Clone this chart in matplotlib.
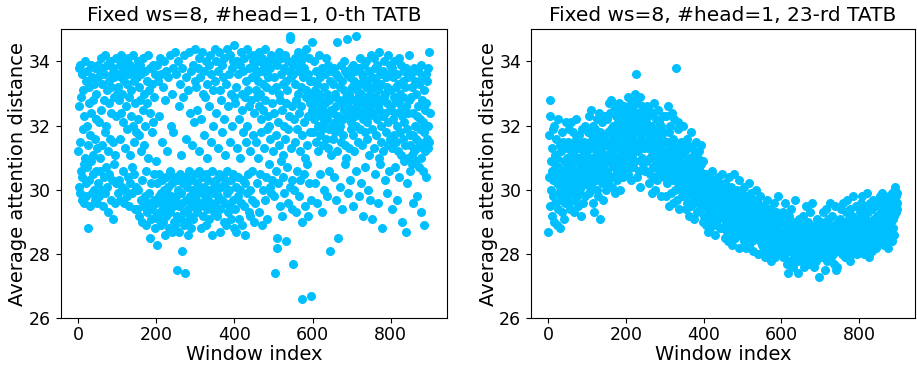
import numpy as np
import matplotlib
matplotlib.use("Agg")
import matplotlib.pyplot as plt

# average attention distance per window, 0-th TATB (50 windows per row)
avgDist0 = np.array("""
31.2 33.8 30.1 32.6 29.9 33.9 31.5 30.6 32.9 29.7 33.6 30.4 31.9 33.1 29.6 30.8 32.3 34.0 31.0 30.2 33.4 29.8 32.0 30.7 33.7 31.4 28.8 32.7 30.3 33.2 29.5 31.7 33.9 30.9 32.4 29.9 33.5 31.1 30.5 32.8 33.3 30.0 31.6 33.8 29.7 32.2 30.6 33.0 31.3 29.6
33.9 30.2 33.5 32.1 29.8 33.7 31.0 30.6 34.1 32.5 30.0 33.3 31.4 29.5 33.8 32.8 30.4 33.6 31.8 29.9 34.2 32.0 30.7 33.1 30.1 33.9 31.2 29.3 32.7 33.4 30.5 34.0 31.6 29.7 33.2 32.4 30.3 33.6 29.1 31.5 33.8 30.8 32.9 33.5 29.6 31.1 34.1 30.2 32.3 33.0
33.6 34.1 29.9 33.2 32.8 30.3 33.9 31.6 29.7 33.5 34.2 32.4 30.1 33.0 33.7 30.6 32.1 29.6 33.4 34.0 31.3 30.0 33.8 32.6 29.8 33.3 31.9 30.4 34.1 32.9 29.5 33.6 31.1 30.2 33.9 32.3 33.1 29.9 30.7 33.7 32.0 34.2 30.5 31.5 33.4 29.4 32.7 33.8 30.1 31.8
33.5 29.4 32.2 34.0 30.0 31.7 33.2 29.2 32.8 33.9 29.7 31.2 33.6 30.3 29.0 32.5 34.1 29.5 33.0 31.4 29.8 33.7 32.0 28.9 30.6 33.4 29.3 32.7 34.2 29.6 31.0 33.1 29.9 28.5 32.4 33.8 30.2 29.1 31.8 33.3 29.4 32.1 33.9 30.5 29.7 32.9 28.8 33.6 30.9 29.2
29.6 33.9 28.3 30.2 29.1 33.4 32.3 29.8 30.5 34.1 29.3 29.9 33.6 28.9 30.3 31.5 29.5 33.2 29.0 30.0 34.0 29.7 28.6 32.8 30.4 29.2 33.7 29.9 31.2 29.4 30.1 33.5 28.8 29.6 34.2 30.6 29.3 32.0 29.8 33.0 28.7 30.2 29.5 33.8 31.8 29.0 30.4 34.3 29.7 28.9
29.8 33.6 30.3 27.5 29.2 34.0 30.0 32.6 29.5 28.7 33.3 30.5 29.1 31.1 29.9 28.1 33.8 29.6 30.2 32.9 29.3 34.2 28.9 30.4 27.4 29.7 33.5 31.6 29.0 30.1 33.1 29.4 28.6 30.6 34.3 29.8 32.4 29.2 30.3 33.7 28.8 29.6 31.4 30.0 33.9 29.1 32.1 29.5 30.5 33.4
34.4 29.7 33.2 30.2 29.3 32.5 33.8 29.9 30.6 34.1 31.2 29.5 33.5 30.0 28.8 32.2 34.3 29.6 30.4 33.0 29.2 31.7 33.7 30.1 29.8 32.9 28.9 34.0 30.5 29.4 33.3 31.0 29.7 30.3 33.9 32.6 29.1 30.0 34.2 29.5 31.5 33.6 30.6 28.6 32.0 29.9 33.1 30.2 29.3 34.4
33.4 29.6 30.3 34.0 32.4 29.2 30.0 33.7 31.3 29.8 34.3 30.5 28.7 33.1 29.4 32.8 30.1 33.9 29.7 31.8 30.4 33.5 29.0 32.2 34.1 29.6 30.2 31.1 33.3 28.9 29.9 34.4 30.6 32.6 29.3 33.6 30.0 29.5 34.2 31.5 33.0 29.1 30.3 33.8 32.0 29.7 30.5 34.0 28.8 32.9
34.5 29.4 32.7 30.1 33.2 28.7 31.3 34.0 29.8 33.6 30.4 32.2 29.1 33.9 30.0 31.0 34.3 29.6 32.5 33.0 28.9 30.3 33.7 31.8 29.5 34.1 32.9 30.2 28.6 33.4 31.5 29.9 34.4 32.0 30.5 33.1 29.3 32.6 33.8 30.0 29.2 31.2 34.2 32.8 29.7 33.5 30.6 31.7 34.0 29.0
33.8 32.4 29.6 34.2 33.1 31.5 33.6 30.2 32.9 34.0 31.0 33.4 29.3 32.6 34.3 33.0 30.5 31.8 33.7 32.2 28.9 34.1 33.3 30.0 32.5 33.9 31.3 29.7 34.4 32.8 33.2 30.4 31.9 33.6 29.1 32.3 34.0 33.5 30.8 32.0 30.1 33.8 31.6 29.9 34.2 32.7 30.3 33.1 31.2 34.1
33.5 29.8 32.4 27.4 34.0 30.6 33.2 31.7 28.5 28.2 33.9 32.1 30.2 34.3 33.0 31.4 29.5 32.8 33.6 30.9 34.1 32.5 29.2 33.3 31.1 30.4 33.8 32.0 29.9 34.2 31.6 33.4 28.4 32.7 30.7 33.1 34.0 31.9 29.6 32.3 33.7 30.1 34.8 34.7 31.3 33.5 29.4 32.6 30.3 33.9
27.7 33.6 32.2 30.0 34.1 31.5 33.3 29.3 32.8 33.9 30.6 31.9 34.3 33.0 29.8 32.4 33.7 31.2 30.3 34.0 32.6 33.2 29.0 26.6 31.7 34.2 33.5 30.5 32.1 33.8 31.0 29.5 34.4 32.9 33.1 30.8 31.4 33.6 29.2 32.3 34.1 30.2 33.4 32.7 31.8 26.7 33.0 29.7 34.6 32.5
32.7 33.4 31.8 34.0 32.2 30.2 33.1 32.9 31.5 33.7 32.4 29.6 33.3 32.0 31.2 34.2 32.6 33.0 31.7 30.5 33.5 32.3 32.8 29.3 31.9 33.8 32.5 31.4 33.2 32.1 30.0 33.6 32.7 31.6 34.1 32.4 29.8 33.0 32.2 31.3 33.9 32.8 30.6 31.9 33.4 28.1 32.5 31.1 33.7 32.0
32.9 33.3 31.6 32.4 33.8 30.4 32.1 33.0 31.8 29.7 33.6 32.6 31.2 34.6 32.3 33.5 28.5 31.9 32.8 33.2 30.1 32.0 33.9 31.5 32.7 33.4 29.4 32.2 31.7 33.1 32.5 34.0 30.8 31.4 33.7 32.9 31.0 32.3 33.6 34.7 29.9 32.6 33.0 31.3 32.8 33.5 30.3 32.1 31.9 33.8
33.2 32.5 31.7 33.9 29.5 32.8 33.4 31.2 32.3 33.7 34.8 32.0 30.6 33.1 32.6 31.5 33.8 32.9 29.8 33.3 32.4 31.9 34.1 33.0 30.2 32.7 33.6 31.4 32.2 33.5 29.2 32.8 33.9 31.8 32.5 30.7 33.2 34.0 32.1 31.6 33.4 32.9 30.0 33.7 32.3 31.1 33.0 32.6 29.7 34.2
32.8 33.5 31.9 29.1 33.2 32.4 34.1 31.3 32.7 33.8 30.5 32.9 33.4 31.7 32.2 33.9 29.6 32.6 33.1 31.0 34.3 32.5 30.8 33.6 32.0 31.5 33.3 32.8 28.8 33.7 32.3 31.2 34.0 32.9 30.3 33.0 32.4 31.8 33.5 29.9 32.7 33.2 31.4 34.2 32.1 30.6 33.6 32.5 31.6 33.9
33.1 32.6 31.3 33.8 29.4 32.2 33.5 31.7 32.9 34.0 30.7 32.4 33.2 31.5 32.8 33.6 29.7 32.0 31.2 33.3 34.1 32.7 30.4 33.0 31.8 32.5 33.9 31.1 29.0 32.3 33.4 31.6 32.9 30.9 33.7 32.1 31.4 33.2 28.7 32.6 33.8 31.9 30.2 32.4 33.5 31.0 32.8 34.2 30.6 31.7
31.4 32.9 33.6 31.1 30.8 33.2 31.7 32.4 29.6 33.8 31.2 32.0 33.4 30.9 31.6 33.0 32.3 31.3 29.8 33.7 32.6 31.5 30.7 33.3 31.9 32.2 33.9 31.0 29.3 32.8 31.4 33.5 30.6 32.1 31.8 33.1 28.9 32.5 31.2 33.6 30.4 32.7 31.6 33.4 32.0 31.3 33.8 34.3 31.5 32.4
""".split(), dtype=float)

# same for the 23-rd TATB
avgDist23 = np.array("""
28.7 31.7 30.4 32.3 29.5 32.8 30.9 30.0 31.3 29.2 30.6 31.9 29.8 30.3 32.0 29.0 30.8 31.1 29.6 30.5 31.6 28.9 30.2 31.0 29.4 30.7 32.2 29.9 30.4 31.4 28.8 30.1 31.2 29.7 30.6 31.8 29.3 30.3 31.5 30.0 29.1 30.9 31.3 29.6 30.5 32.1 30.2 29.8 31.0 30.7
30.8 31.5 29.6 30.3 31.9 30.1 29.4 31.2 30.7 32.1 29.9 30.5 31.4 30.0 31.8 29.3 30.9 31.1 30.4 29.7 31.6 30.2 32.2 29.8 30.6 31.3 30.9 29.5 31.0 30.4 31.7 29.9 30.7 31.4 30.1 29.2 31.9 30.6 31.2 30.3 29.6 31.5 30.8 31.0 29.8 32.0 30.5 31.3 30.2 30.9
31.2 30.4 31.8 30.7 32.3 29.9 31.5 30.1 31.0 32.5 30.6 31.3 30.2 31.7 29.6 30.9 32.0 30.5 29.3 31.4 30.8 31.9 30.3 31.1 32.2 30.0 31.6 30.7 29.8 31.3 32.4 30.4 31.0 29.1 31.8 30.6 31.2 30.2 32.1 30.9 31.5 29.7 30.8 31.7 30.3 32.3 31.1 30.5 31.4 30.0
31.5 32.2 30.6 31.8 30.2 32.7 31.1 30.9 32.4 31.3 30.4 31.9 32.8 30.8 31.6 30.1 32.0 31.2 30.7 32.5 31.4 29.9 31.7 32.3 30.5 31.0 32.6 31.5 30.3 31.8 32.1 30.8 31.3 32.7 30.0 31.9 31.1 32.4 30.6 31.6 32.2 31.0 30.4 31.7 32.6 31.3 30.9 32.0 31.5 30.7
31.9 32.4 30.8 31.5 32.9 31.2 30.5 32.2 31.7 32.6 31.0 32.0 31.4 30.3 32.8 31.8 31.1 32.5 30.7 31.6 32.3 31.3 33.0 31.9 30.9 33.6 32.1 31.5 30.4 32.7 31.2 32.4 31.8 30.6 32.0 31.4 32.9 30.1 31.7 32.3 31.0 32.6 31.5 30.8 32.2 31.9 31.3 32.5 30.6 31.8
31.5 32.1 30.6 31.8 32.6 30.9 31.3 32.3 30.2 31.7 32.5 31.0 30.5 31.9 32.0 31.4 29.9 31.1 32.4 30.7 31.6 32.7 30.4 31.2 31.8 30.0 32.2 31.5 30.8 31.9 31.3 30.3 32.5 31.0 30.6 31.7 32.1 30.9 31.4 29.8 32.0 31.2 30.5 31.6 32.3 30.7 31.1 31.8 30.4 31.5
31.2 30.5 32.3 30.9 29.8 31.5 30.2 32.6 30.7 31.0 29.5 31.8 30.4 32.0 30.9 31.3 29.9 30.6 32.4 31.1 30.3 31.6 29.6 30.8 32.2 31.4 30.0 31.2 30.5 33.8 31.0 29.7 30.7 31.9 30.2 32.1 30.6 29.4 31.3 30.9 30.1 31.5 30.4 29.8 31.1 30.7 32.0 30.3 29.9 30.6
30.5 29.8 31.2 30.1 29.4 30.8 31.6 30.3 29.6 30.9 31.4 30.0 29.2 30.6 31.0 29.9 30.4 31.8 29.5 30.7 30.2 31.3 29.7 30.5 29.1 30.9 31.1 30.0 29.8 30.4 31.5 30.2 29.3 30.7 30.1 31.0 29.6 30.3 31.2 29.9 30.6 29.4 30.8 30.2 31.4 29.7 30.0 30.5 29.0 30.9
29.8 30.3 29.2 29.6 30.1 28.9 29.5 30.5 29.0 29.9 29.4 30.0 28.7 29.7 30.4 29.3 29.8 28.8 30.2 29.5 29.1 29.9 30.6 29.4 28.9 29.7 30.1 29.2 29.6 30.3 28.6 29.8 29.3 30.0 29.5 28.9 30.4 29.7 29.1 29.9 30.2 29.4 28.8 29.6 30.0 29.2 29.8 30.5 29.3 29.5
29.5 28.8 29.9 29.2 28.5 30.2 29.4 29.0 29.7 28.7 30.0 29.3 28.4 29.6 29.1 30.4 28.9 29.5 29.8 28.6 29.2 30.1 29.4 28.3 29.7 29.0 29.9 28.8 29.3 30.5 28.5 29.6 29.1 29.8 28.7 30.0 29.4 28.9 29.2 29.6 28.2 29.5 30.3 29.0 28.8 29.7 29.3 28.6 29.9 29.1
29.2 28.6 29.5 28.9 30.1 28.4 29.1 29.7 28.7 29.3 28.2 29.0 29.8 28.5 29.4 28.8 30.2 29.1 28.3 29.6 28.9 29.2 28.6 29.9 28.4 29.0 29.5 28.7 28.1 29.3 29.7 28.8 29.1 28.5 30.0 29.4 28.6 28.9 29.2 28.0 29.6 28.7 29.0 29.3 28.4 29.8 28.9 28.5 29.1 29.4
28.9 28.3 29.2 28.6 28.1 29.5 28.8 28.4 29.0 27.9 28.7 29.3 28.5 28.2 29.7 28.8 28.3 29.1 28.6 28.0 29.4 28.7 28.4 29.0 27.8 28.9 29.2 28.5 28.1 28.8 29.6 28.3 28.7 29.1 28.4 27.9 28.9 29.3 28.6 28.2 28.8 29.8 28.5 28.0 29.0 28.7 28.4 29.2 28.6 28.3
28.6 28.2 29.0 28.4 27.9 29.3 28.7 28.1 28.5 29.6 28.0 28.8 28.3 29.1 27.7 28.5 28.9 27.4 28.2 28.6 29.2 28.4 27.8 28.7 29.4 28.1 28.5 28.9 28.3 27.6 28.8 29.0 28.2 28.6 27.9 29.7 28.4 28.7 28.0 28.3 28.9 28.5 27.8 27.4 28.6 29.1 28.2 28.4 28.8 28.1
28.5 28.1 28.8 27.8 28.4 29.2 28.0 28.6 28.3 27.6 28.9 28.2 28.5 29.5 27.9 28.7 28.3 28.0 28.6 29.0 28.1 27.7 28.4 28.8 28.2 29.3 28.5 27.9 28.6 28.3 29.6 28.0 28.4 28.7 27.6 28.2 28.9 28.5 28.1 28.4 27.8 28.7 29.1 28.3 28.0 28.6 28.2 27.3 28.5 28.8
28.6 28.2 29.0 28.4 27.9 28.7 28.3 29.3 28.1 28.5 28.8 28.0 27.5 28.6 29.4 28.3 28.7 28.1 27.8 28.9 28.4 29.1 28.2 28.6 28.0 29.6 28.5 27.9 28.3 28.8 28.1 28.7 29.2 28.4 28.0 28.6 27.7 28.9 28.3 29.5 27.5 28.5 28.2 27.6 28.8 28.4 29.0 28.1 28.6 28.3
28.8 28.4 29.1 28.6 28.2 29.4 28.7 28.0 28.9 29.6 28.3 28.8 28.5 29.0 27.9 28.6 29.3 28.4 28.1 28.9 29.7 28.5 28.7 28.2 29.1 28.8 27.8 28.6 29.4 28.3 28.9 28.0 28.7 29.2 28.5 28.1 29.8 28.6 28.4 29.0 28.2 28.8 29.5 28.3 28.7 28.0 29.1 28.5 28.9 28.6
28.9 28.5 29.3 28.7 28.1 29.6 28.8 28.3 29.0 29.8 28.4 28.9 28.6 29.2 28.0 28.7 29.5 28.5 28.2 29.1 29.9 28.6 28.8 28.3 29.3 28.9 27.9 28.7 29.6 28.4 29.0 28.2 28.8 29.4 28.6 28.1 29.7 28.7 28.5 29.1 28.3 28.9 29.5 28.4 28.8 28.2 29.2 28.6 29.0 28.7
29.2 28.7 29.6 28.9 28.4 29.8 29.0 28.5 29.3 29.9 28.6 29.1 28.8 29.5 28.3 28.9 29.7 28.6 28.4 29.2 29.6 28.8 29.0 28.5 29.4 29.1 28.2 28.9 29.8 28.6 29.3 28.5 29.0 29.6 28.7 28.4 29.9 29.1 28.8 29.4 28.6 29.2 29.7 30.1 29.5 29.8 29.3 29.6 29.4 29.9
""".split(), dtype=float)

titles = ["Fixed ws=8, #head=1, 0-th TATB", "Fixed ws=8, #head=1, 23-rd TATB"]

fig = plt.figure(figsize=(9.17, 3.66), dpi=100)
ax1 = fig.add_axes([0.066, 0.13, 0.422, 0.79])
ax2 = fig.add_axes([0.579, 0.13, 0.419, 0.79])

for ax, dist, title in zip([ax1, ax2], [avgDist0, avgDist23], titles):
    windowIdx = np.arange(len(dist))
    ax.scatter(windowIdx, dist, s=30, color="deepskyblue")
    ax.set_ylim(26, 35)
    ax.set_xlim(-45, 945)
    ax.set_xticks([0, 200, 400, 600, 800])
    ax.set_yticks([26, 28, 30, 32, 34])
    ax.tick_params(labelsize=12.5)
    ax.tick_params(axis="x", pad=2)
    ax.set_title(title, fontsize=14.5)
    ax.set_xlabel("Window index", fontsize=14, labelpad=1)
    ax.set_ylabel("Average attention distance", fontsize=14, labelpad=1)

fig.savefig("out.png", dpi=100)
